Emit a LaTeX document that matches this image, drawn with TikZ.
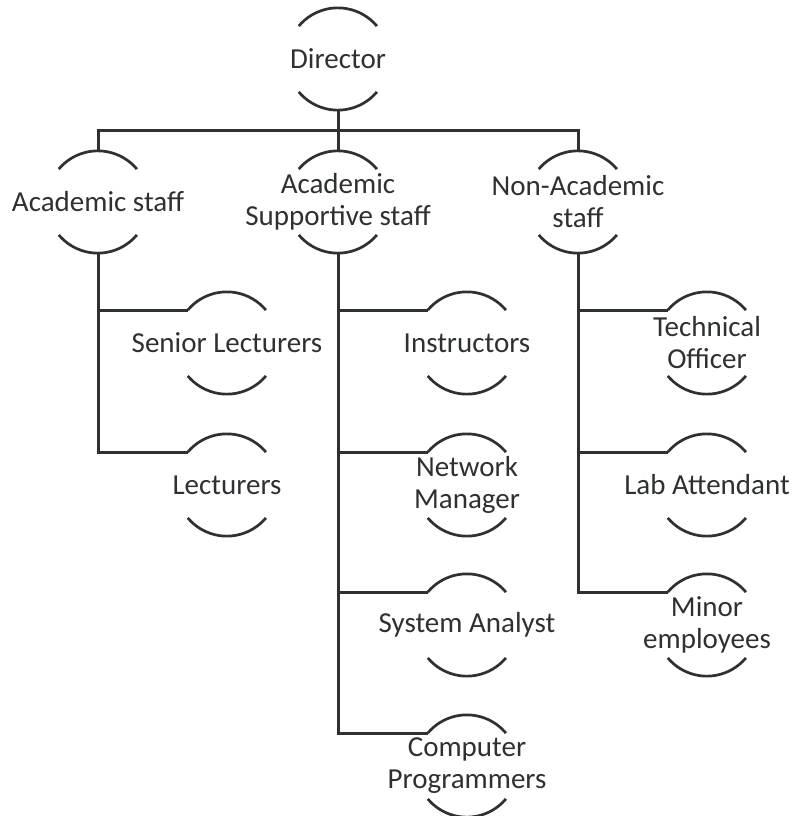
\documentclass[tikz,border=0pt]{standalone}
\usepackage{fontspec}
\setmainfont{Carlito}
\definecolor{ink}{HTML}{2E3133}
\begin{document}
\begin{tikzpicture}[x=1pt,y=-1pt,
  unit/.style={circle, minimum size=102pt, inner sep=0pt},
  lab/.style={align=center, font=\fontsize{29}{32}\selectfont, text=ink},
  link/.style={draw=ink, line width=3pt, line join=miter},
  arcs/.style={draw=ink, line width=2.7pt}]
\useasboundingbox[fill=white] (0,0) rectangle (804,816);
\node[unit, label={[lab]center:Director}] (dir) at (338,59) {};
\node[unit, label={[lab]center:Academic staff}] (acad) at (98,202) {};
\node[unit, label={[lab]center:Academic\\Supportive staff}] (sup) at (338,202) {};
\node[unit, label={[lab]center:Non-Academic\\staff}] (non) at (578,202) {};
\node[unit, label={[lab]center:Senior Lecturers}] (sl) at (227,343) {};
\node[unit, label={[lab]center:Lecturers}] (lec) at (227,485) {};
\node[unit, label={[lab]center:Instructors}] (ins) at (467,343) {};
\node[unit, label={[lab]center:Network\\Manager}] (net) at (467,485) {};
\node[unit, label={[lab]center:System Analyst}] (sys) at (467,625) {};
\node[unit, label={[lab]center:Computer\\Programmers}] (cp) at (467,766) {};
\node[unit, label={[lab]center:Technical\\Officer}] (tec) at (707,343) {};
\node[unit, label={[lab]center:Lab Attendant}] (lab) at (707,485) {};
\node[unit, label={[lab]center:Minor\\employees}] (min) at (707,625) {};
\foreach \n in {dir,acad,sup,non,sl,lec,ins,net,sys,cp,tec,lab,min} {
  \draw[arcs] (\n.140) arc[start angle=140, end angle=40, radius=51pt];
  \draw[arcs] (\n.220) arc[start angle=220, end angle=320, radius=51pt];
}
\path (dir.south) -- (sup.north) coordinate[pos=0.5] (bus);
\draw[link] (dir.south) -- (sup.north);
\draw[link] (acad.north) |- (bus) -| (non.north);
\draw[link] (acad.south) |- (sl.140);
\draw[link] (acad.south) |- (lec.140);
\draw[link] (sup.south) |- (ins.140);
\draw[link] (sup.south) |- (net.140);
\draw[link] (sup.south) |- (sys.140);
\draw[link] (sup.south) |- (cp.140);
\draw[link] (non.south) |- (tec.140);
\draw[link] (non.south) |- (lab.140);
\draw[link] (non.south) |- (min.140);
\end{tikzpicture}
\end{document}
